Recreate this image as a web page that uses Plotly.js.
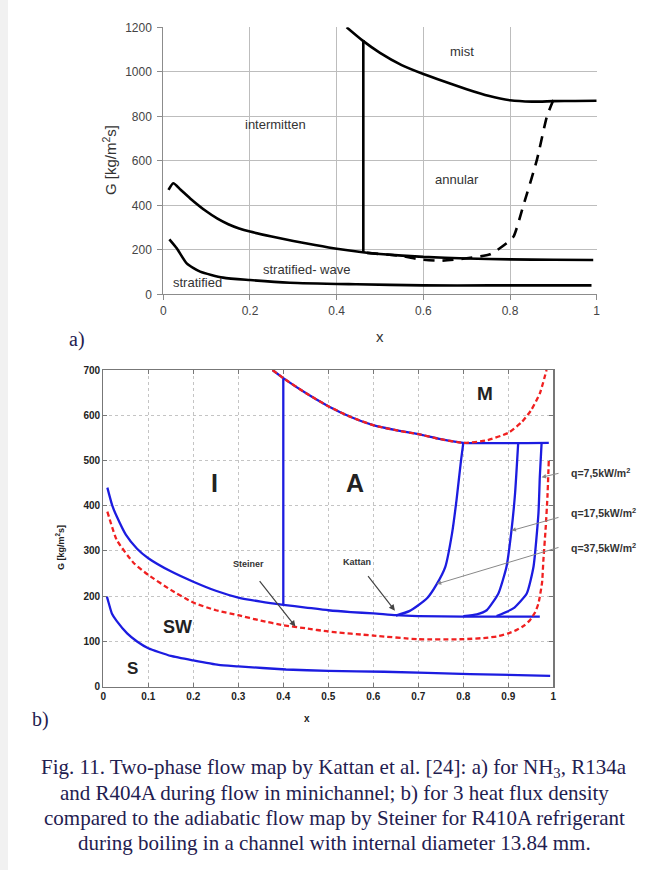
<!DOCTYPE html>
<html>
<head>
<meta charset="utf-8">
<script src="https://cdn.plot.ly/plotly-3.0.1.min.js"></script>
<style>html,body{margin:0;padding:0;background:#fff;}#chart{width:658px;height:870px;}</style>
</head>
<body>
<div id="chart"></div>
<script>
// ---------- Panel a) Kattan map (NH3, R134a, R404A) ----------
const aMistX = [0.423,0.46,0.5,0.55,0.6,0.65,0.7,0.75,0.8,0.85,0.9,0.95,1.0];
const aMistG = [1200,1140,1085,1030,990,955,922,892,872,866,868,869,870];
const aVertX = [0.4615,0.4615];
const aVertG = [187,1143];
const aIntX = [0.012,0.023,0.04,0.062,0.1,0.125,0.15,0.175,0.2,0.25,0.3,0.35,0.4,0.46,0.5,0.6,0.7,0.8,0.9,0.992];
const aIntG = [469,499,470,431,372,340,315,296,282,260,240,222,205,189,181,168,161,157,155,154];
const aDashX = [0.47,0.55,0.592,0.638,0.7,0.754,0.792,0.808,0.83,0.862,0.885,0.9];
const aDashG = [186,172,157,151,162,180,229,259,394,604,798,873];
const aStratX = [0.014,0.031,0.054,0.085,0.138,0.2,0.292,0.446,0.6,0.754,0.988];
const aStratG = [247,207,139,102,75,64,52,45,40,40,40];
const aLabels = ["mist","intermitten","annular","stratified- wave","stratified"];
const aLabelX = [0.69,0.258,0.677,0.331,0.079];
const aLabelG = [1093,761,517,112,52];

// ---------- Panel b) Kattan vs Steiner (R410A) ----------
const bMistBlueX = [0.376,0.4,0.45,0.5,0.55,0.6,0.65,0.7,0.75,0.8,0.99];
const bMistBlueG = [700,682,649,620,596,578,567,558,547,539,539];
const bMistRedX = [0.376,0.4,0.45,0.5,0.55,0.6,0.65,0.7,0.75,0.8,0.85,0.9,0.93,0.95,0.97,0.985];
const bMistRedG = [700,682,649,620,596,578,567,558,547,539,544,561,585,610,648,700];
const bVertX = [0.4,0.4];
const bVertG = [180,682];
const bIAX = [0.009,0.02,0.03,0.05,0.075,0.1,0.15,0.2,0.25,0.3,0.35,0.4,0.45,0.5,0.55,0.6,0.65,0.7,0.8,0.9,0.97];
const bIAG = [440,400,376,336,305,284,255,232,212,197,188,181,175,169,165,162,158,156,155,155,155];
const bQ37X = [0.65,0.68,0.70,0.72,0.74,0.76,0.775,0.785,0.795,0.8];
const bQ37G = [157,167,180,196,225,265,339,413,501,539];
const bQ17X = [0.8,0.83,0.852,0.878,0.896,0.907,0.915,0.922];
const bQ17G = [156,160,169,206,265,345,427,539];
const bQ7X = [0.874,0.911,0.941,0.956,0.967,0.97,0.974];
const bQ7G = [156,173,206,265,383,463,539];
const bSWX = [0.009,0.03,0.068,0.1,0.15,0.2,0.25,0.3,0.35,0.4,0.45,0.5,0.6,0.7,0.8,0.85,0.874,0.9,0.918,0.935,0.948,0.96,0.967,0.975,0.978,0.983,0.987,0.99];
const bSWG = [387,324,273,247,214,186,169,158,146,136,129,122,113,105,105,108,111,118,125,135,147,165,184,230,280,350,420,501];
const bSX = [0.008,0.012,0.019,0.03,0.053,0.075,0.1,0.15,0.2,0.256,0.3,0.406,0.5,0.624,0.815,0.993];
const bSG = [199,185,162,145,118,100,85,68,58,48,45,38,35,33,28,24];
const bLabels = ["I","A","M","SW","S"];
const bLabelX = [0.248,0.56,0.848,0.165,0.064];
const bLabelG = [450,450,648,133,41];
const bLabelSize = [25,25,19,18,17];
const qLabels = ["q=7,5kW/m<sup>2</sup>","q=17,5kW/m<sup>2</sup>","q=37,5kW/m<sup>2</sup>"];
const qHeadX = [0.974,0.907,0.741];
const qHeadG = [463,345,227];

const caption = [
 "Fig. 11. Two-phase flow map by Kattan et al. [24]: a) for NH<sub>3</sub>, R134a",
 "and R404A during flow in minichannel; b) for 3 heat flux density",
 "compared to the adiabatic flow map by Steiner for R410A refrigerant",
 "during boiling in a channel with internal diameter 13.84 mm."
];

// ---------- geometry helpers (page pixels -> paper) ----------
const W = 658, H = 870;
const px = v => v / W;
const py = v => 1 - v / H;

const blue = '#1c1ce0', red = '#f02020';
const traces = [];
function lineA(x, y, dash) {
  traces.push({x, y, xaxis:'x', yaxis:'y', mode:'lines', showlegend:false, hoverinfo:'skip',
    line:{color:'#000', width:2.6, dash: dash || 'solid', shape:'spline', smoothing:0.6}});
}
lineA(aMistX, aMistG);
lineA(aVertX, aVertG);
lineA(aIntX, aIntG);
lineA(aStratX, aStratG);
lineA(aDashX, aDashG, '11px,8px');

function lineB(x, y, color, dash) {
  traces.push({x, y, xaxis:'x2', yaxis:'y2', mode:'lines', showlegend:false, hoverinfo:'skip',
    line:{color, width:2.3, dash: dash || 'solid', shape:'spline', smoothing:0.5}});
}
lineB(bMistBlueX, bMistBlueG, blue);
lineB(bVertX, bVertG, blue);
lineB(bIAX, bIAG, blue);
lineB(bQ37X, bQ37G, blue);
lineB(bQ17X, bQ17G, blue);
lineB(bQ7X, bQ7G, blue);
lineB(bSX, bSG, blue);
lineB(bMistRedX, bMistRedG, red, '5px,3px');
lineB(bSWX, bSWG, red, '5px,3px');

const annotations = [];
function txt(o) { annotations.push(Object.assign({showarrow:false, xanchor:'center', yanchor:'middle'}, o)); }
aLabels.forEach((t,i) => txt({x:aLabelX[i], y:aLabelG[i], xref:'x', yref:'y', text:t,
  font:{family:'Liberation Sans, Arial', size:13, color:'#333'}}));
bLabels.forEach((t,i) => txt({x:bLabelX[i], y:bLabelG[i], xref:'x2', yref:'y2', text:'<b>'+t+'</b>',
  font:{family:'Liberation Sans, Arial', size:bLabelSize[i], color:'#222'}}));
txt({x:0.323, y:271, xref:'x2', yref:'y2', text:'<b>Steiner</b>', font:{family:'Liberation Sans, Arial', size:9, color:'#333'}});
txt({x:0.564, y:276, xref:'x2', yref:'y2', text:'<b>Kattan</b>', font:{family:'Liberation Sans, Arial', size:9, color:'#333'}});
// pointer arrows
annotations.push({x:0.427, y:133, xref:'x2', yref:'y2', ax:-37, ay:-47, text:'', showarrow:true, arrowhead:2, arrowsize:1, arrowwidth:1.2, arrowcolor:'#444'});
annotations.push({x:0.648, y:168, xref:'x2', yref:'y2', ax:-28, ay:-36, text:'', showarrow:true, arrowhead:2, arrowsize:1, arrowwidth:1.2, arrowcolor:'#444'});
// q labels and their arrows
const qLabelY = [472, 512, 547];
const qTail = [[560,473],[560,517],[560,547]];
qLabels.forEach((t,i) => {
  txt({x:px(569), y:py(qLabelY[i]), xref:'paper', yref:'paper', xanchor:'left', text:'<b>'+t+'</b>',
    font:{family:'Liberation Sans, Arial', size:10.5, color:'#333'}});
  const hx = 103.3 + qHeadX[i]*450, hy = 686.7 - qHeadG[i]*(316.7/700);
  annotations.push({x:qHeadX[i], y:qHeadG[i], xref:'x2', yref:'y2', ax:qTail[i][0]-hx, ay:qTail[i][1]-hy, text:'', showarrow:true,
    arrowhead:2, arrowsize:0.9, arrowwidth:1, arrowcolor:'#888'});
});
// axis titles
txt({x:px(109), y:py(160), xref:'paper', yref:'paper', text:'G [kg/m<sup>2</sup>s]', textangle:-90,
  font:{family:'Liberation Sans, Arial', size:15, color:'#333'}});
txt({x:px(380), y:py(336), xref:'paper', yref:'paper', text:'x',
  font:{family:'Liberation Sans, Arial', size:15, color:'#333'}});
txt({x:px(60), y:py(548), xref:'paper', yref:'paper', text:'<b>G [kg/m<sup>2</sup>s]</b>', textangle:-90,
  font:{family:'Liberation Sans, Arial', size:9, color:'#222'}});
txt({x:px(307), y:py(718), xref:'paper', yref:'paper', text:'<b>x</b>',
  font:{family:'Liberation Sans, Arial', size:10, color:'#222'}});
// panel letters
txt({x:px(77), y:py(339), xref:'paper', yref:'paper', text:'a)',
  font:{family:'Liberation Serif, Times New Roman', size:20, color:'#1f2050'}});
txt({x:px(40), y:py(719), xref:'paper', yref:'paper', text:'b)',
  font:{family:'Liberation Serif, Times New Roman', size:20, color:'#1f2050'}});
// caption
const capY = [768, 793, 818, 843];
caption.forEach((t,i) => txt({x:px(334), y:py(capY[i]), xref:'paper', yref:'paper', text:t,
  font:{family:'Liberation Serif, Times New Roman', size:21, color:'#1f2050'}}));

const layout = {
  width: W, height: H,
  margin:{l:0, r:0, t:0, b:0},
  paper_bgcolor:'#fff', plot_bgcolor:'#fff',
  showlegend:false,
  xaxis:{domain:[px(163.3), px(596.7)], range:[0,1], dtick:0.2, anchor:'y',
    showgrid:true, gridcolor:'#bdbdbd', gridwidth:1, zeroline:false,
    showline:true, linecolor:'#8c8c8c', ticks:'outside', ticklen:5, tickcolor:'#8c8c8c',
    tickfont:{family:'Liberation Sans, Arial', size:12, color:'#444'}},
  yaxis:{domain:[py(294.3), py(27.3)], range:[0,1200], dtick:200, anchor:'x',
    showgrid:true, gridcolor:'#bdbdbd', gridwidth:1, zeroline:false,
    showline:true, linecolor:'#8c8c8c', ticks:'outside', ticklen:5, tickcolor:'#8c8c8c',
    ticklabelstandoff:3,
    tickfont:{family:'Liberation Sans, Arial', size:12, color:'#444'}},
  xaxis2:{domain:[px(103.3), px(553.3)], range:[0,1], dtick:0.1, anchor:'y2',
    showgrid:true, gridcolor:'#c4c4c4', griddash:'dot', zeroline:false,
    showline:true, mirror:'ticks', linecolor:'#777', linewidth:1.2, ticks:'inside', ticklen:4, tickcolor:'#777',
    tickfont:{family:'Liberation Sans, Arial', size:10, color:'#222', weight:'bold'}},
  yaxis2:{domain:[py(686.7), py(370)], range:[0,700], dtick:100, anchor:'x2',
    showgrid:true, gridcolor:'#c4c4c4', griddash:'dot', zeroline:false,
    showline:true, mirror:'ticks', linecolor:'#777', linewidth:1.2, ticks:'inside', ticklen:4, tickcolor:'#777',
    tickfont:{family:'Liberation Sans, Arial', size:10, color:'#222', weight:'bold'}},
  shapes:[{type:'rect', xref:'paper', yref:'paper', x0:0, x1:px(8), y0:0, y1:1, fillcolor:'#f1f1f1', line:{width:0}, layer:'below'}],
  annotations
};
Plotly.newPlot('chart', traces, layout, {staticPlot:true, displayModeBar:false});
</script>
</body>
</html>
